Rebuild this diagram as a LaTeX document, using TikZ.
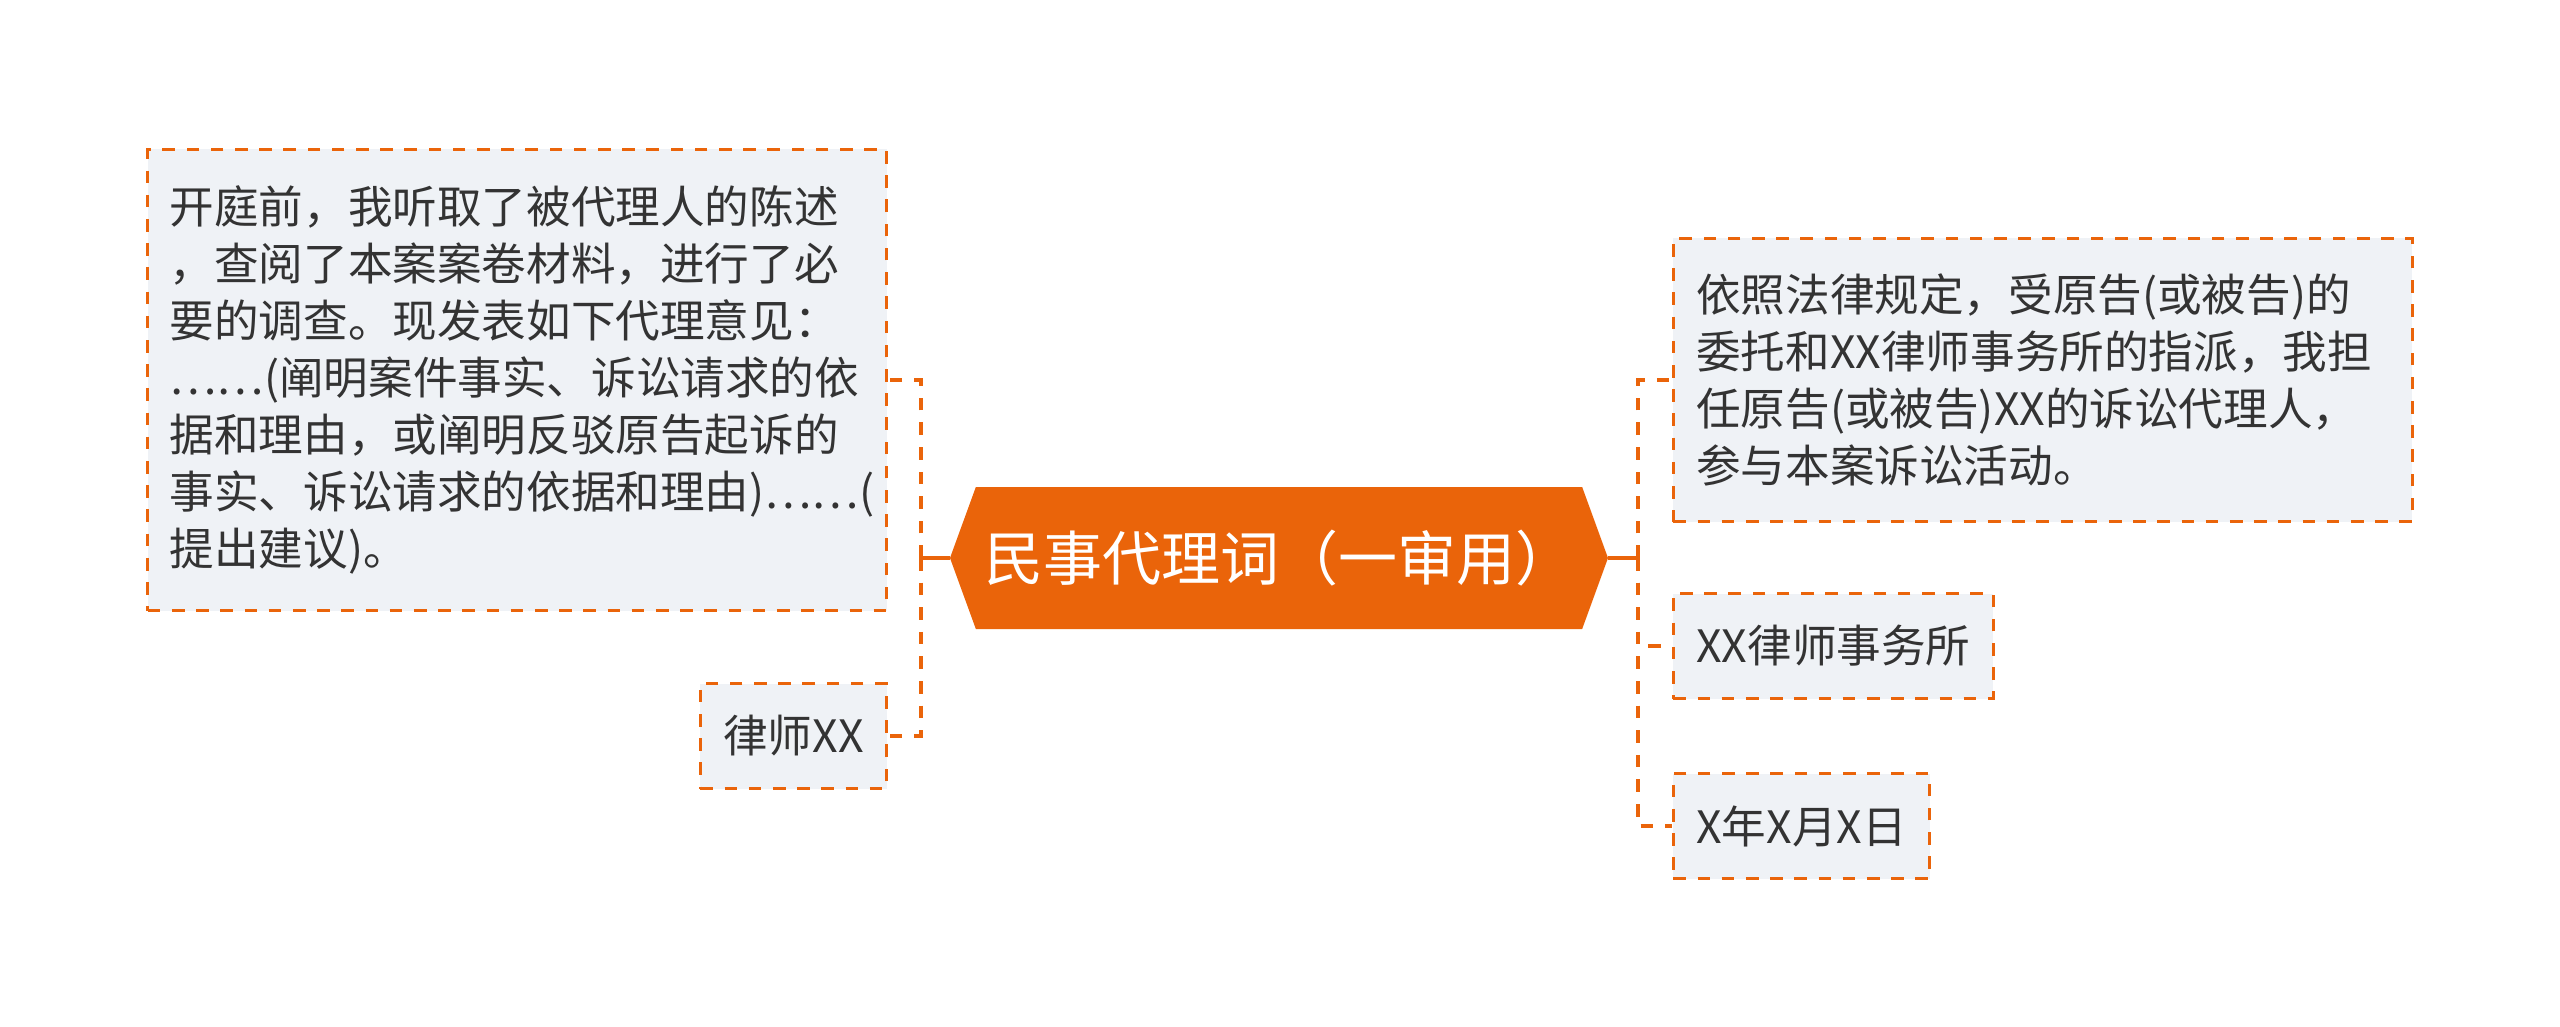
\documentclass[tikz,border=0pt]{standalone}
\usepackage{fontspec}
\newfontfamily\cjk{Noto Sans CJK SC}
\usetikzlibrary{shapes.symbols}

\definecolor{mainorange}{RGB}{234,100,10}
\definecolor{boxfill}{RGB}{239,242,246}
\definecolor{boxtext}{RGB}{51,51,51}

\begin{document}
\begin{tikzpicture}[x=0.5pt, y=-0.5pt,
  every node/.style={font=\cjk\fontsize{22.3pt}{28.5pt}\selectfont, text=boxtext},
  topic/.style={shape=signal, signal to=west and east, signal pointer angle=140,
    fill=mainorange, minimum width=329pt, minimum height=71pt, inner sep=0pt,
    text=white, font=\cjk\fontsize{29.5pt}{35pt}\selectfont},
  leaf/.style={draw=mainorange, fill=boxfill, line width=1.3pt,
    dash pattern=on 6.3pt off 5.8pt, inner xsep=11.5pt, inner ysep=0pt,
    minimum height=52.5pt, align=left},
  stub/.style={draw=mainorange, line width=2pt},
  link/.style={draw=mainorange, line width=2.3pt, dash pattern=on 6.3pt off 6pt}]

  \useasboundingbox (0,0) rectangle (2560,1027);

  % central topic
  \node[topic] (main) at (1279,558) {民事代理词（一审用）};

  % left branch
  \node[leaf, anchor=east, text width=347.5pt, inner xsep=11pt, minimum height=230.5pt]
    (opinion) at (888,380) {开庭前，我听取了被代理人的陈述\\，查阅了本案案卷材料，进行了必\\要的调查。现发表如下代理意见：\\……(阐明案件事实、诉讼请求的依\\据和理由，或阐明反驳原告起诉的\\事实、诉讼请求的依据和理由)……(\\提出建议)。};
  \node[leaf, anchor=east] (lawyer) at (888,736) {律师XX};

  % right branch
  \node[leaf, anchor=west, text width=346.5pt, minimum height=141.5pt]
    (entrust) at (1672,380) {依照法律规定，受原告(或被告)的\\委托和XX律师事务所的指派，我担\\任原告(或被告)XX的诉讼代理人，\\参与本案诉讼活动。};
  \node[leaf, anchor=west] (firm) at (1672,646) {XX律师事务所};
  \node[leaf, anchor=west] (date) at (1672,826) {X年X月X日};

  % connectors
  \coordinate (ltrunk) at (921,558);
  \coordinate (rtrunk) at (1638,558);
  \draw[stub] (main.west) -- (ltrunk);
  \draw[stub] (main.east) -- (rtrunk);
  \draw[link] (ltrunk) |- (opinion.east);
  \draw[link] (ltrunk) |- (lawyer.east);
  \draw[link] (rtrunk) |- (entrust.west);
  \draw[link] (rtrunk) |- (firm.west);
  \draw[link] (rtrunk) |- (date.west);

\end{tikzpicture}
\end{document}
